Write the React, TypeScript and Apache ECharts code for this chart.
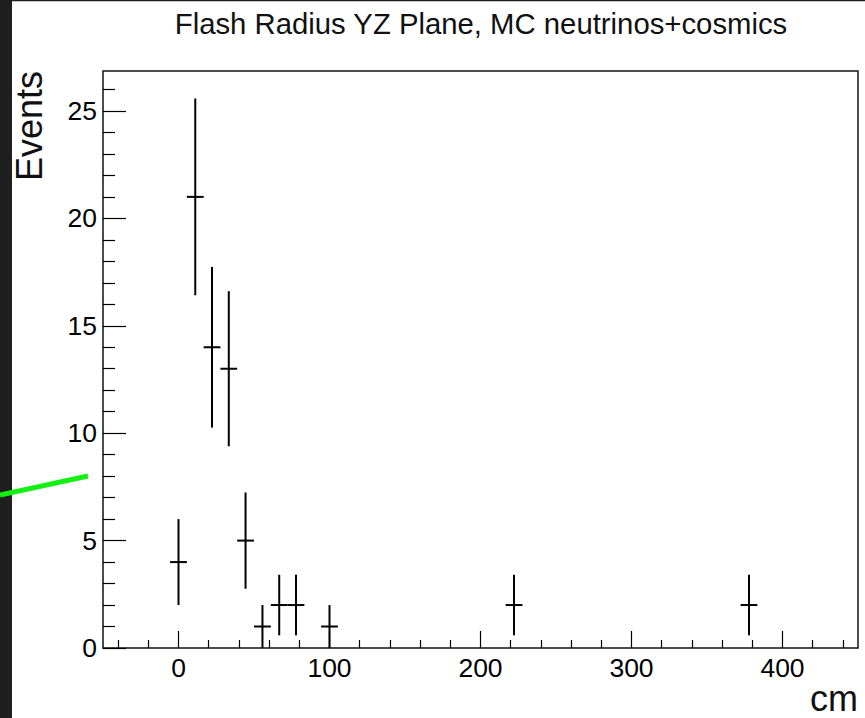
import React, { useEffect, useRef } from "react";
import * as echarts from "echarts";

// ---- data ----
const titleText = "Flash Radius YZ Plane, MC neutrinos+cosmics";
const xTitle = "cm";
const yTitle = "Events";

const binCenters = [0, 11.1, 22.2, 33.3, 44.4, 55.6, 66.7, 77.8, 100, 222.2, 377.8];
const counts = [4, 21, 14, 13, 5, 1, 2, 2, 1, 2, 2];
const errors = [2, 4.58, 3.74, 3.61, 2.24, 1, 1.41, 1.41, 1, 1.41, 1.41];
const binHalfWidth = 5.56;

const xMin = -50;
const xMax = 450;
const yMin = 0;
const yMax = 26.86;

const xMajorTicks = [0, 100, 200, 300, 400];
const xMinorTicks = [-40, -20, 20, 40, 60, 80, 120, 140, 160, 180, 220, 240, 260, 280, 320, 340, 360, 380, 420, 440];
const yMajorTicks = [0, 5, 10, 15, 20, 25];
const yMinorTicks = [1, 2, 3, 4, 6, 7, 8, 9, 11, 12, 13, 14, 16, 17, 18, 19, 21, 22, 23, 24, 26];

const FONT = "'Liberation Sans', Arial, Helvetica, sans-serif";

export default function App() {
  const ref = useRef<HTMLDivElement>(null);

  useEffect(() => {
    if (!ref.current) return;
    const chart = echarts.init(ref.current, null, { renderer: "svg" });

    const data = binCenters.map((x, i) => [x, counts[i], errors[i]]);

    const tickStyle = { color: "#000", width: 1.2 };
    const labelStyle = { color: "#000", fontSize: 26.5, fontFamily: FONT };
    const noLine = { show: false, onZero: false };

    chart.setOption({
      animation: false,
      backgroundColor: "#fff",
      grid: {
        left: 103,
        top: 71,
        right: 7,
        bottom: 70,
        show: true,
        borderColor: "#111",
        borderWidth: 1.5,
        backgroundColor: "transparent",
        containLabel: false,
      },
      xAxis: [
        {
          type: "value",
          min: xMin,
          max: xMax,
          position: "bottom",
          axisLine: noLine,
          splitLine: { show: false },
          axisTick: { show: true, inside: true, length: 17, lineStyle: tickStyle, customValues: xMajorTicks },
          axisLabel: { show: true, margin: 6, customValues: xMajorTicks, ...labelStyle },
        },
        {
          type: "value",
          min: xMin,
          max: xMax,
          position: "bottom",
          axisLine: noLine,
          splitLine: { show: false },
          axisTick: { show: true, inside: true, length: 8, lineStyle: tickStyle, customValues: xMinorTicks },
          axisLabel: { show: false },
        },
      ],
      yAxis: [
        {
          type: "value",
          min: yMin,
          max: yMax,
          position: "left",
          axisLine: noLine,
          splitLine: { show: false },
          axisTick: { show: true, inside: true, length: 23, lineStyle: tickStyle, customValues: yMajorTicks },
          axisLabel: { show: true, margin: 6, customValues: yMajorTicks, ...labelStyle },
        },
        {
          type: "value",
          min: yMin,
          max: yMax,
          position: "left",
          axisLine: noLine,
          splitLine: { show: false },
          axisTick: { show: true, inside: true, length: 12, lineStyle: tickStyle, customValues: yMinorTicks },
          axisLabel: { show: false },
        },
      ],
      series: [
        {
          type: "custom",
          xAxisIndex: 0,
          yAxisIndex: 0,
          data,
          encode: { x: 0, y: 1 },
          renderItem: (params: any, api: any) => {
            const x = api.value(0);
            const y = api.value(1);
            const e = api.value(2);
            const c = api.coord([x, y]);
            const top = api.coord([x, y + e]);
            const bot = api.coord([x, y - e]);
            const l = api.coord([x - binHalfWidth, y]);
            const r = api.coord([x + binHalfWidth, y]);
            const st = { stroke: "#000", lineWidth: 2 };
            return {
              type: "group",
              children: [
                { type: "line", shape: { x1: c[0], y1: top[1], x2: c[0], y2: bot[1] }, style: st },
                { type: "line", shape: { x1: l[0], y1: c[1], x2: r[0], y2: c[1] }, style: st },
              ],
            };
          },
        },
      ],
      graphic: [
        {
          type: "text",
          x: 481,
          y: 23,
          style: {
            text: titleText,
            fontSize: 29.3,
            fontFamily: FONT,
            fill: "#111",
            align: "center",
            verticalAlign: "middle",
          },
        },
        {
          type: "text",
          x: 29,
          y: 126,
          rotation: Math.PI / 2,
          style: {
            text: yTitle,
            fontSize: 36,
            fontFamily: FONT,
            fill: "#111",
            align: "center",
            verticalAlign: "middle",
          },
        },
        {
          type: "text",
          x: 858,
          y: 698.5,
          style: {
            text: xTitle,
            fontSize: 36,
            fontFamily: FONT,
            fill: "#111",
            align: "right",
            verticalAlign: "middle",
          },
        },
        { type: "rect", shape: { x: 0, y: 0, width: 12, height: 718 }, style: { fill: "#1f1f1f" }, z: 10 },
        { type: "rect", shape: { x: 0, y: 0, width: 865, height: 1.2 }, style: { fill: "#1f1f1f" }, z: 10 },
        {
          type: "line",
          shape: { x1: 0, y1: 495, x2: 88, y2: 476 },
          style: { stroke: "#14f014", lineWidth: 5 },
          z: 11,
        },
      ],
    });

    return () => chart.dispose();
  }, []);

  return (
    <div
      ref={ref}
      style={{ position: "fixed", left: 0, top: 0, width: 865, height: 718, background: "#fff" }}
    />
  );
}
